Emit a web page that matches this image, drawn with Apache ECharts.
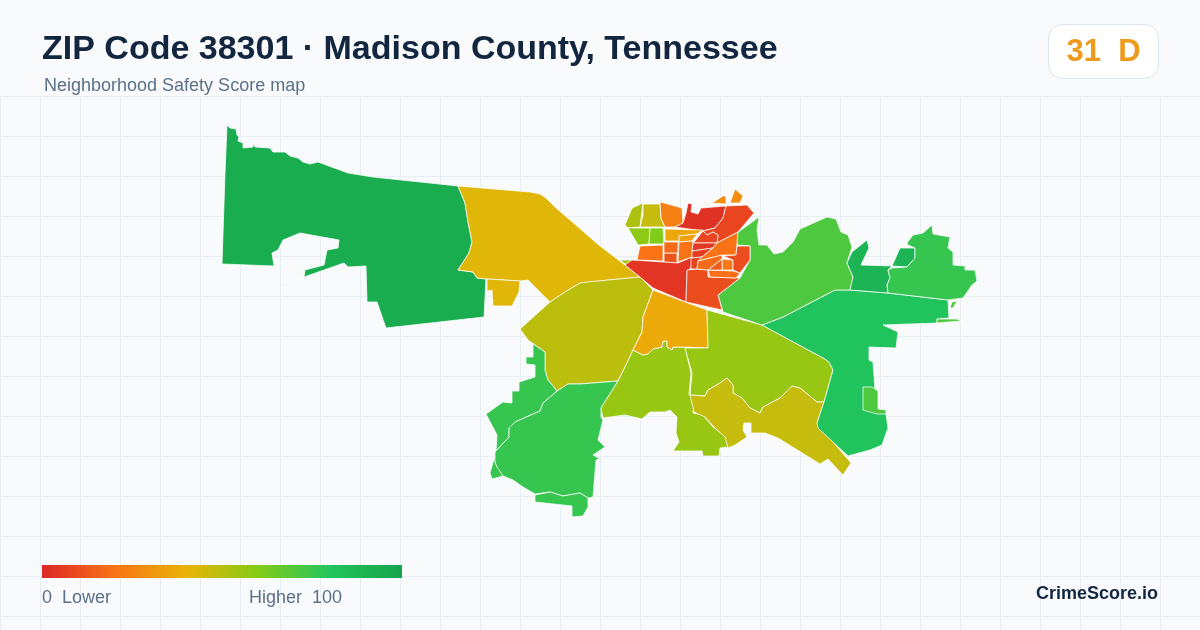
<!DOCTYPE html>
<html>
<head>
<meta charset="utf-8">
<title>ZIP Code 38301</title>
<script src="https://cdn.jsdelivr.net/npm/echarts@6/dist/echarts.min.js"></script>
<style>
  html, body { margin: 0; padding: 0; background: #f8fafc; }
  #chart { width: 1200px; height: 630px; }
</style>
</head>
<body>
<div id="chart"></div>
<script>
const titleText = 'ZIP Code 38301 · Madison County, Tennessee';
const subtitleText = 'Neighborhood Safety Score map';
const badgeText = '31  D';
const legendLow = '0  Lower';
const legendHigh = 'Higher  100';
const brandText = 'CrimeScore.io';
const scaleColors = ['#dc2626', '#f97316', '#eab308', '#84cc16', '#22c55e', '#16a34a'];

// Safety score per neighborhood, same order as the outlines below
const regionScores = [
  94, 42, 42, 49, 76, 76, 76, 56, 37, 56, 47, 81, 71, 71, 71, 71,
  90, 90, 76, 47, 24, 3, 8, 28, 28, 52, 52, 58, 61, 36, 34, 20, 12, 18,
  4, 10, 20, 8, 5, 6, 8, 19, 20, 18, 22, 14, 10
];

// Outlines, in page pixels
const regionOutlines = [
  // west
  [[[227,125],[230,128],[236,129],[237,135],[239,137],[238,141],[243,143],[243,148],[253,147],[253,143],[255,147],[270,148],[273,152],[285,152],[290,156],[298,158],[303,162],[310,164],[318,162],[348,173],[373,177],[458,186],[465,203],[468,222],[472,242],[469,253],[458,270],[473,272],[477,278],[486,279],[484,317],[386,328],[377,302],[367,302],[366,266],[348,267],[344,263],[304,277],[305,270],[324,265],[327,250],[338,248],[339,240],[300,233],[283,240],[278,250],[272,253],[274,266],[222,264],[225,173]],
   [[280,286],[304,278],[304,278.4],[280,286.4]]],
  // gold main
  [[[458,186],[530,192],[540,194],[546,198],[555,207],[600,246],[625,265],[640,277],[580,283],[565,292],[550,302],[528,280],[520,281],[487,279],[477,278],[473,272],[458,270],[469,253],[472,242],[468,222],[465,203]]],
  // gold small
  [[[487,279],[520,281],[519,292],[512,306],[493,306],[492,290],[487,291]]],
  // olive
  [[[550,302],[565,292],[580,283],[587,282],[640,277],[653,290],[643,317],[642,332],[633,350],[627,363],[618,381],[580,384],[568,384],[557,391],[548,380],[545,370],[545,352],[528,340],[520,329]]],
  // southwest outer
  [[[533,344],[545,352],[545,370],[548,380],[557,391],[543,403],[540,411],[515,422],[509,428],[509,437],[495,452],[495,462],[503,476],[492,479],[490,473],[496,452],[497,435],[486,414],[503,402],[512,403],[512,391],[519,391],[519,382],[535,377],[535,365],[526,364],[526,357],[533,357]]],
  // southwest main
  [[[557,391],[568,384],[580,384],[618,381],[601,408],[601,417],[603,420],[598,440],[605,447],[593,455],[600,459],[596,460],[593,497],[588,498],[580,493],[563,496],[550,492],[535,494],[523,487],[513,480],[503,476],[497,467],[495,462],[495,452],[509,437],[509,428],[515,422],[540,411],[543,403]]],
  // south strip
  [[[535,495],[550,492],[563,496],[580,493],[588,498],[588,507],[583,516],[572,517],[572,506],[535,502]]],
  // center south lime
  [[[633,350],[643,355],[648,354],[653,349],[662,347],[663,341],[667,341],[667,347],[672,350],[673,347],[685,347],[691,373],[689,395],[695,396],[693,413],[703,415],[713,427],[725,436],[728,447],[720,448],[719,456],[703,456],[702,451],[673,451],[679,442],[676,433],[677,417],[670,410],[665,412],[650,412],[642,419],[625,415],[603,418],[601,408],[618,381],[627,363]]],
  // center orange
  [[[653,290],[707,310],[708,348],[685,347],[673,347],[672,350],[667,347],[667,341],[663,341],[662,347],[653,349],[648,354],[643,355],[633,350],[642,332],[643,317]]],
  // southeast lime
  [[[707,310],[762,325],[825,359],[829,362],[833,370],[824,402],[817,402],[800,388],[792,386],[780,398],[763,407],[760,413],[750,408],[742,398],[733,393],[733,385],[727,378],[720,383],[708,390],[705,396],[690,395],[692,373],[685,348],[708,348]]],
  // southeast olive
  [[[690,395],[705,396],[708,390],[720,383],[727,378],[733,385],[733,393],[742,398],[750,408],[760,413],[763,407],[780,398],[792,386],[800,388],[817,402],[824,402],[817,423],[851,463],[843,475],[828,459],[820,464],[778,438],[765,433],[751,433],[751,423],[744,423],[743,430],[747,437],[735,445],[728,448],[725,437],[715,428],[705,417],[694,412]]],
  // east big
  [[[762,325],[783,317],[835,290],[850,290],[888,293],[948,300],[949,318],[937,319],[937,323],[883,325],[898,332],[896,348],[869,347],[869,360],[873,362],[875,390],[878,409],[886,414],[888,428],[882,445],[870,450],[848,456],[818,428],[817,423],[824,402],[833,370],[829,362],[825,359]]],
  // east patch
  [[[863,387],[872,387],[878,391],[878,409],[886,410],[886,414],[877,414],[863,410]]],
  // east bits
  [[[952,302],[957,301],[953,308],[950,308]]],
  [[[937,319],[957,319],[961,321],[937,323]]],
  // northeast lime green
  [[[737,233],[759,217],[757,230],[759,245],[767,245],[774,254],[783,252],[793,242],[800,229],[827,217],[836,219],[841,232],[848,235],[852,247],[847,263],[853,277],[850,290],[835,290],[783,317],[762,325],[723,312],[718,295],[740,278],[750,260],[750,246],[737,245]]],
  // dark green pieces
  [[[867,240],[869,248],[861,265],[892,266],[888,270],[890,278],[887,285],[888,293],[850,290],[853,277],[847,263],[852,252]]],
  [[[892,266],[900,248],[915,248],[915,258],[907,267]]],
  // far northeast
  [[[907,243],[913,235],[923,233],[932,225],[933,234],[950,237],[948,248],[953,252],[953,265],[965,266],[965,270],[975,270],[977,281],[972,285],[963,298],[948,300],[888,293],[887,285],[890,278],[888,270],[892,268],[907,267],[915,258],[915,248],[908,245]]],
  // north tracts
  [[[643,204],[660,204],[661,218],[665,227],[640,227],[643,215]]],
  [[[660,202],[668,204],[682,208],[683,223],[675,227],[665,227],[661,218]]],
  [[[688,203],[692,204],[691,212],[698,214],[701,208],[726,206],[723,218],[715,228],[703,231],[675,227],[683,223],[686,213]]],
  [[[726,206],[747,205],[754,213],[738,232],[717,243],[718,235],[713,232],[707,235],[703,231],[715,228],[723,218]]],
  [[[712,203],[723,196],[726,196],[726,204]]],
  [[[730,203],[735,189],[743,196],[740,203]]],
  [[[625,225],[632,208],[643,203],[640,227],[628,228]]],
  [[[620,260],[632,260],[637,260],[632,264],[625,264]]],
  [[[628,228],[650,228],[649,244],[638,245]]],
  [[[650,228],[663,228],[664,244],[649,244]]],
  [[[665,229],[703,230],[697,234],[679,236],[679,241],[665,241]]],
  [[[679,236],[697,234],[692,241],[679,242]]],
  // downtown
  [[[640,246],[663,245],[663,261],[637,260]]],
  [[[664,253],[677,253],[677,263],[664,262]]],
  [[[664,242],[678,242],[678,253],[664,253]]],
  [[[625,265],[632,260],[663,262],[678,263],[692,257],[691,268],[687,271],[686,302],[653,288],[640,277]]],
  [[[687,270],[697,269],[708,270],[708,277],[740,278],[718,295],[722,310],[686,302]]],
  [[[679,242],[693,241],[692,257],[678,262]]],
  [[[695,241],[703,231],[707,235],[713,232],[718,235],[717,243],[693,243]]],
  [[[693,243],[717,243],[713,248],[692,251]]],
  [[[692,251],[713,248],[702,257],[692,258]]],
  [[[691,258],[702,257],[698,261],[697,269],[691,269]]],
  [[[708,270],[733,271],[740,273],[736,278],[710,277]]],
  [[[738,232],[736,255],[723,255],[698,261],[702,257],[713,248],[717,243]]],
  [[[698,261],[722,255],[722,259],[708,270],[697,269]]],
  [[[722,259],[733,260],[733,270],[722,270]]],
  [[[708,270],[722,259],[722,270]]],
  [[[737,246],[750,246],[750,260],[740,273],[733,270],[733,260],[723,256],[736,255]]]
];

const features = regionOutlines.map((rings, i) => ({
  type: 'Feature',
  properties: { name: 'region-' + i },
  geometry: { type: 'MultiPolygon', coordinates: rings.map(r => [r]) }
}));
echarts.registerMap('zip38301', { type: 'FeatureCollection', features });

const chart = echarts.init(document.getElementById('chart'));

// Background grid, 40px cells below the header
const gridLines = [];
for (let x = 0; x <= 1200; x += 40) {
  gridLines.push({ type: 'line', silent: true, shape: { x1: x + 0.5, y1: 97, x2: x + 0.5, y2: 630 }, style: { stroke: '#e8eff4', lineWidth: 1 } });
}
for (let y = 97; y <= 630; y += 40) {
  gridLines.push({ type: 'line', silent: true, shape: { x1: 0, y1: y - 0.5, x2: 1200, y2: y - 0.5 }, style: { stroke: '#e8eff4', lineWidth: 1 } });
}

const fontFamily = '"Liberation Sans", Arial, sans-serif';

// The visualMap's own bar has rounded corners, so the legend bar is drawn here
const legendStops = scaleColors.map((color, i) => ({ offset: i / (scaleColors.length - 1), color }));

chart.setOption({
  animation: false,
  backgroundColor: '#f8fafc',
  title: [
    { text: titleText, left: 42, top: 33, padding: 0, textStyle: { color: '#12263f', fontSize: 34, fontWeight: 'bold', fontFamily } },
    { text: subtitleText, left: 44, top: 77, padding: 0, textStyle: { color: '#5b7089', fontSize: 18, fontWeight: 'normal', fontFamily } }
  ],
  visualMap: {
    type: 'continuous',
    show: false,
    min: 0,
    max: 100,
    inRange: { color: scaleColors },
    seriesIndex: 0
  },
  graphic: gridLines.concat([
    { type: 'rect', silent: true, shape: { x: 1048.5, y: 24.5, width: 110, height: 54, r: 14 }, style: { fill: '#ffffff', stroke: '#dde5ee', lineWidth: 1 } },
    { type: 'text', silent: true, x: 1103.5, y: 52, style: { text: badgeText, fill: '#ee9a1c', font: 'bold 31px ' + fontFamily, textAlign: 'center', textVerticalAlign: 'middle' } },
    { type: 'rect', silent: true, shape: { x: 42, y: 565, width: 360, height: 13 }, style: { fill: new echarts.graphic.LinearGradient(0, 0, 1, 0, legendStops) } },
    { type: 'text', silent: true, x: 42, y: 598, style: { text: legendLow, fill: '#5b7089', font: '18px ' + fontFamily, textAlign: 'left', textVerticalAlign: 'middle' } },
    { type: 'text', silent: true, x: 342, y: 598, style: { text: legendHigh, fill: '#5b7089', font: '18px ' + fontFamily, textAlign: 'right', textVerticalAlign: 'middle' } },
    { type: 'text', silent: true, x: 1158, y: 594, style: { text: brandText, fill: '#12263f', font: 'bold 18px ' + fontFamily, textAlign: 'right', textVerticalAlign: 'middle' } }
  ]),
  series: [{
    type: 'map',
    map: 'zip38301',
    projection: { project: p => p, unproject: p => p },
    boundingCoords: [[0, 0], [1200, 630]],
    left: 0,
    top: 0,
    width: 1200,
    height: 630,
    aspectScale: 1,
    roam: false,
    silent: true,
    selectedMode: false,
    label: { show: false },
    emphasis: { disabled: true },
    itemStyle: { borderColor: '#ffffff', borderWidth: 0.75 },
    data: regionScores.map((value, i) => ({ name: 'region-' + i, value }))
  }]
});
</script>
</body>
</html>
